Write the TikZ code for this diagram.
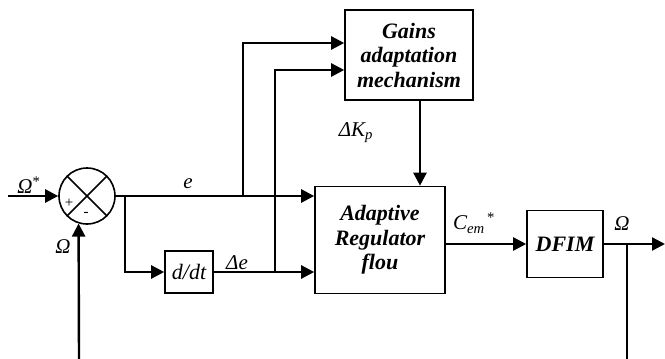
\documentclass[tikz,border=0pt]{standalone}
\usepackage{fontspec}
\setmainfont{Liberation Serif}
\usetikzlibrary{arrows.meta, positioning}

\begin{document}
\begin{tikzpicture}[x=1pt, y=-1pt,
    blk/.style={draw, line width=1.6pt, align=center, inner sep=0pt,
      font=\fontsize{22}{24.5}\selectfont\bfseries\itshape},
    lbl/.style={inner sep=0pt, font=\fontsize{21}{24}\selectfont\itshape},
    sig/.style={line width=2.4pt},
    arr/.style={sig, -{Triangle[length=13pt, width=13pt]}}]
        \useasboundingbox (0,0) rectangle (665,359);

        % Comparateur
        \node[draw, circle, line width=1.6pt, minimum size=56] (sum) at (87,196) {};
        \draw[line width=1.6pt] (sum.north west) -- (sum.south east) (sum.north east) -- (sum.south west);
        \node[font=\fontsize{15}{15}\selectfont] (plus) at (69,203) {+};
        \node[font=\fontsize{15}{15}\selectfont] (minus) at (86,214) {-};

        % Blocs
        \node[blk, minimum width=48, minimum height=42] (ddt) at (189,272) {\mdseries d/dt};
        \node[blk, minimum width=128, minimum height=90] (gains) at (409,55) {Gains\\adaptation\\mechanism};
        \node[blk, minimum width=130, minimum height=107] (reg) at (380,240) {Adaptive\\Regulator\\flou};
        \node[blk, minimum width=76, minimum height=67] (dfim) at (565,244) {DFIM};

        % Points de branchement
        \coordinate (in) at (8,196);
        \coordinate (fb) at (79,359);
        \coordinate (b1) at (125,196);
        \coordinate (b2) at (243,196);
        \coordinate (b3) at (275,272);
        \coordinate (b4) at (627,244);
        \coordinate (fbout) at (627,359);
        \coordinate (out) at (665,244);

        % Liaisons
        \draw[arr] (in) -- (sum.west);
        \draw[arr] (fb) -- (sum.-107);
        \draw[arr] (sum.east) -- (sum.east -| reg.west);
        \draw[arr] (b1) |- (ddt.west);
        \draw[arr] (ddt.east) -- (ddt.east -| reg.west);
        \draw[arr] (b2) |- ([yshift=12pt]gains.west);
        \draw[arr] (b3) |- ([yshift=-15pt]gains.west);
        \draw[arr] ([xshift=11pt]gains.south) -- ([xshift=11pt]gains.south |- reg.north);
        \draw[arr] (reg.east |- dfim.west) -- (dfim.west);
        \draw[arr] (dfim.east) -- (out);
        \draw[sig] (b4) -- (fbout);

        % Etiquettes
        \node[lbl] (wref) at (29,185) {Ω\textsuperscript{\upshape *}};
        \node[lbl] (wfb) at (63,247) {Ω};
        \node[lbl] (err) at (188,184) {e};
        \node[lbl] (derr) at (237,263) {Δe};
        \node[lbl] (dkp) at (356,133) {ΔK\textsubscript{p}};
        \node[lbl] (cem) at (474,223) {C\textsubscript{em}\textsuperscript{\,\upshape *}};
        \node[lbl] (wout) at (622,224) {Ω};
    \end{tikzpicture}
\end{document}
